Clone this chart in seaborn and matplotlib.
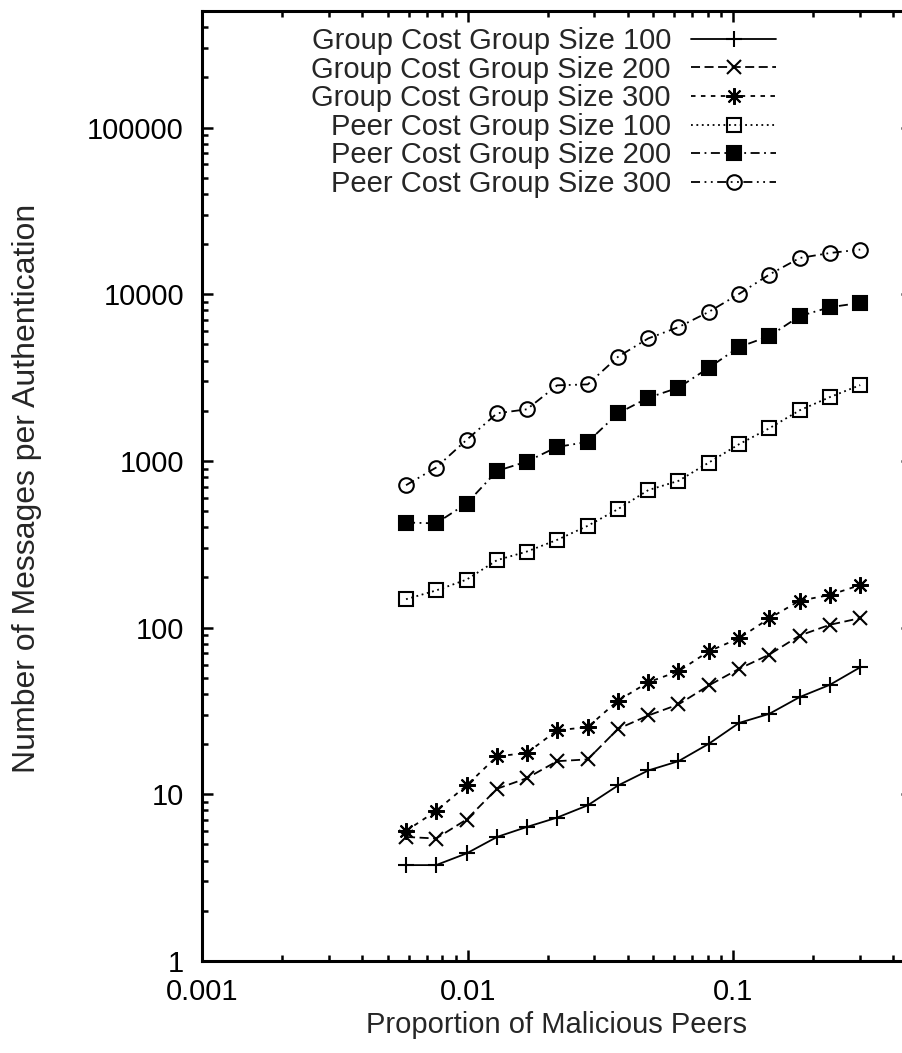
import numpy as np
import pandas as pd
import matplotlib
matplotlib.use("Agg")
import matplotlib.pyplot as plt
import matplotlib.ticker as mticker
import seaborn as sns

# ---- data ----
proportion = [0.00586, 0.0076, 0.0099, 0.0129, 0.0167, 0.0217, 0.0283, 0.0368,
              0.0478, 0.0621, 0.0808, 0.105, 0.1365, 0.1775, 0.2308, 0.3]

group_cost_100 = [3.76, 3.76, 4.42, 5.55, 6.37, 7.25, 8.59, 11.3,
                  13.9, 15.8, 20.1, 26.8, 30.4, 38.3, 45.4, 57.8]
group_cost_200 = [5.55, 5.43, 7.06, 10.8, 12.5, 15.8, 16.2, 24.7,
                  29.7, 34.6, 45.0, 56.6, 68.9, 89.6, 104, 114]
group_cost_300 = [6.03, 7.94, 11.3, 16.9, 17.7, 24.2, 25.3, 36.5,
                  47.0, 54.7, 72.1, 86.3, 113.7, 145, 157, 180]
peer_cost_100 = [148, 167, 194, 254, 286, 336, 408, 514,
                 668, 759, 977, 1259, 1570, 2011, 2415, 2849]
peer_cost_200 = [427, 422, 555, 871, 991, 1213, 1300, 1930,
                 2393, 2749, 3622, 4817, 5607, 7385, 8356, 8870]
peer_cost_300 = [715, 912, 1336, 1931, 2040, 2840, 2877, 4213,
                 5430, 6345, 7835, 10040, 13120, 16490, 17670, 18530]

series_labels = ["Group Cost Group Size 100", "Group Cost Group Size 200",
                 "Group Cost Group Size 300", "Peer Cost Group Size 100",
                 "Peer Cost Group Size 200", "Peer Cost Group Size 300"]

x_ticks = [0.001, 0.01, 0.1]
x_tick_labels = ["0.001", "0.01", "0.1"]
y_ticks = [1, 10, 100, 1000, 10000, 100000]
y_tick_labels = ["1", "10", "100", "1000", "10000", "100000"]

x_label = "Proportion of Malicious Peers"
y_label = "Number of Messages per Authentication"

# ---- style ----
sns.set_style("ticks")
plt.rcParams["font.family"] = ["Liberation Sans", "DejaVu Sans"]
FS = 21

fig = plt.figure(figsize=(9.02, 10.53), dpi=100)
ax = fig.add_axes([202 / 902, 92 / 1053, 710 / 902, 950 / 1053])

values = [group_cost_100, group_cost_200, group_cost_300,
          peer_cost_100, peer_cost_200, peer_cost_300]
styles = [
    dict(marker="+", linestyle="-", ms=12, mfc="black"),
    dict(marker="x", linestyle=(0, (5, 2.5)), ms=10.5, mfc="black"),
    dict(marker=(8, 2, 0), linestyle=(0, (2.5, 3)), ms=12, mfc="black"),
    dict(marker="s", linestyle=(0, (1, 2)), ms=10, mfc="none"),
    dict(marker="s", linestyle=(0, (5, 2.5, 1, 2.5)), ms=10, mfc="black"),
    dict(marker="o", linestyle=(0, (5, 2.5, 1, 2.5, 1, 2.5)), ms=10.5, mfc="none"),
]

for vals, lab, st in zip(values, series_labels, styles):
    df = pd.DataFrame({"x": proportion, "y": vals})
    sns.lineplot(data=df, x="x", y="y", ax=ax, color="black", label=lab,
                 marker=st["marker"], linestyle=st["linestyle"],
                 markersize=st["ms"], markerfacecolor=st["mfc"],
                 markeredgecolor="black", markeredgewidth=1.5,
                 linewidth=1.3, errorbar=None, sort=False)

ax.set_xscale("log")
ax.set_yscale("log")
ax.set_xlim(0.001, 0.47)
ax.set_ylim(1, 5e5)

ax.xaxis.set_major_locator(mticker.FixedLocator(x_ticks))
ax.xaxis.set_major_formatter(mticker.FixedFormatter(x_tick_labels))
ax.yaxis.set_major_locator(mticker.FixedLocator(y_ticks))
ax.yaxis.set_major_formatter(mticker.FixedFormatter(y_tick_labels))
ax.xaxis.set_minor_locator(mticker.LogLocator(base=10, subs=np.arange(2, 10), numticks=20))
ax.yaxis.set_minor_locator(mticker.LogLocator(base=10, subs=np.arange(2, 10), numticks=20))
ax.xaxis.set_minor_formatter(mticker.NullFormatter())
ax.yaxis.set_minor_formatter(mticker.NullFormatter())

ax.tick_params(which="both", direction="in", top=True, right=True,
               width=1.8, colors="black", labelsize=FS)
ax.tick_params(which="major", length=8)
ax.tick_params(which="minor", length=4)
ax.tick_params(axis="y", which="major", pad=13)
ax.tick_params(axis="x", which="major", pad=12)

for sp in ax.spines.values():
    sp.set_linewidth(2.2)
    sp.set_color("black")

ax.set_xlabel(x_label, fontsize=FS)
ax.set_ylabel(y_label, fontsize=23)
ax.xaxis.set_label_coords(556 / 902, 1 - 1011 / 1053, transform=fig.transFigure)
ax.yaxis.set_label_coords(42 / 902, 1 - 488 / 1053, transform=fig.transFigure)

leg = ax.legend(loc="upper right", bbox_to_anchor=(776 / 902, 1 - 27 / 1053),
                bbox_transform=fig.transFigure, markerfirst=False, frameon=False,
                handlelength=2.9, handletextpad=0.7, labelspacing=0.02,
                borderpad=0, borderaxespad=0, fontsize=FS, numpoints=1)

fig.savefig("out.png", dpi=100)
